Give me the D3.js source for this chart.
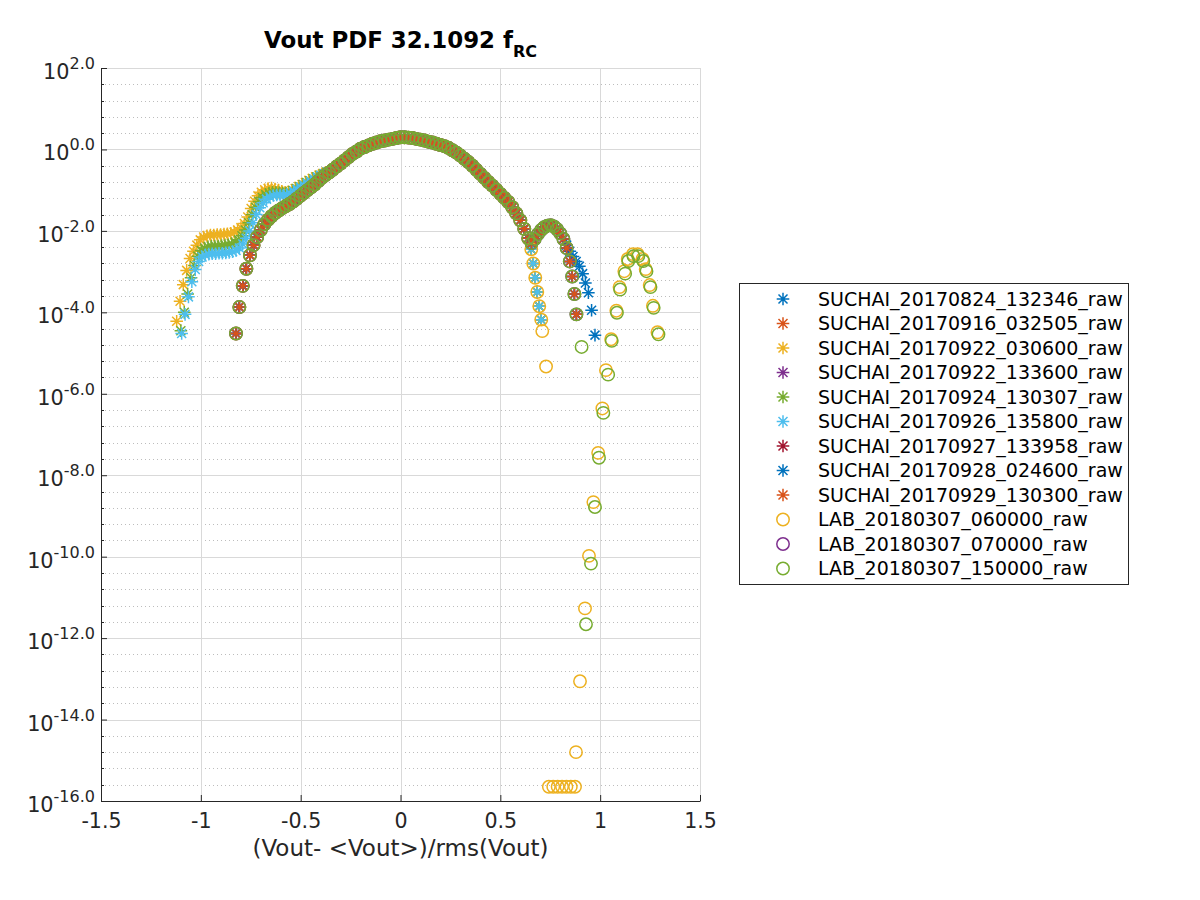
<!DOCTYPE html>
<html>
<head>
<meta charset="utf-8">
<script src="https://cdn.jsdelivr.net/npm/d3@7"></script>
<style>
  body { margin: 0; background: #fff; }
  text { font-family: "DejaVu Sans", sans-serif; }
</style>
</head>
<body>
<svg id="chart" width="1200" height="900"></svg>
<script>
// values are log10(PDF) against (Vout-<Vout>)/rms(Vout)

const names = [
  'SUCHAI_20170824_132346_raw', 'SUCHAI_20170916_032505_raw', 'SUCHAI_20170922_030600_raw',
  'SUCHAI_20170922_133600_raw', 'SUCHAI_20170924_130307_raw', 'SUCHAI_20170926_135800_raw',
  'SUCHAI_20170927_133958_raw', 'SUCHAI_20170928_024600_raw', 'SUCHAI_20170929_130300_raw',
  'LAB_20180307_060000_raw', 'LAB_20180307_070000_raw', 'LAB_20180307_150000_raw'
];
const markers = ['*', '*', '*', '*', '*', '*', '*', '*', '*', 'o', 'o', 'o'];
const colors = ['#0072BD', '#D95319', '#EDB120', '#7E2F8E', '#77AC30', '#4DBEEE',
  '#A2142F', '#0072BD', '#D95319', '#EDB120', '#7E2F8E', '#77AC30'];

const xTicks = [-1.5, -1, -0.5, 0, 0.5, 1, 1.5];
const yTicks = [-16, -14, -12, -10, -8, -6, -4, -2, 0, 2];

// left flank of the narrow runs (and the LAB runs)
const leftB = [[-0.824,-4.52],[-0.807,-3.87],[-0.790,-3.35],[-0.772,-2.93],[-0.754,-2.60],[-0.736,-2.35],
  [-0.718,-2.15],[-0.700,-1.98],[-0.682,-1.84],[-0.664,-1.73],[-0.646,-1.64],[-0.628,-1.56],[-0.610,-1.50],
  [-0.592,-1.44],[-0.574,-1.39],[-0.556,-1.34],[-0.538,-1.28],[-0.520,-1.21],[-0.502,-1.14],[-0.484,-1.07],
  [-0.466,-1.00],[-0.448,-0.93],[-0.430,-0.86],[-0.412,-0.78],[-0.394,-0.70],[-0.376,-0.63],[-0.358,-0.57]];

// left flanks of the wide runs (shoulder near 1e-2)
const leftYellow = [[-1.121,-4.22],[-1.104,-3.73],[-1.088,-3.32],[-1.071,-2.97],[-1.054,-2.68],[-1.037,-2.50],
  [-1.020,-2.35],[-1.003,-2.22],[-0.986,-2.15],[-0.969,-2.12],[-0.952,-2.10],[-0.935,-2.10],[-0.918,-2.09],
  [-0.901,-2.09],[-0.884,-2.08],[-0.867,-2.07],[-0.850,-2.06],[-0.833,-2.03],[-0.816,-1.98],[-0.799,-1.92],
  [-0.782,-1.82],[-0.765,-1.66],[-0.748,-1.45],[-0.731,-1.27],[-0.714,-1.14],[-0.697,-1.05],[-0.680,-0.99],
  [-0.663,-0.96],[-0.646,-0.95],[-0.629,-0.97],[-0.612,-1.00],[-0.595,-1.03],[-0.578,-1.05],[-0.561,-1.04],
  [-0.544,-1.01],[-0.527,-0.96],[-0.510,-0.91],[-0.493,-0.86],[-0.476,-0.81],[-0.459,-0.76],[-0.442,-0.71],
  [-0.425,-0.67],[-0.408,-0.63],[-0.391,-0.60],[-0.374,-0.56],[-0.357,-0.53]];
const leftGreen = [[-1.100,-4.45],[-1.083,-4.00],[-1.066,-3.55],[-1.049,-3.15],[-1.032,-2.85],[-1.015,-2.62],
  [-0.998,-2.48],[-0.981,-2.42],[-0.964,-2.39],[-0.947,-2.38],[-0.930,-2.37],[-0.913,-2.37],[-0.896,-2.36],
  [-0.879,-2.35],[-0.862,-2.34],[-0.845,-2.32],[-0.828,-2.28],[-0.811,-2.22],[-0.794,-2.12],[-0.777,-1.98],
  [-0.760,-1.80],[-0.743,-1.60],[-0.726,-1.42],[-0.709,-1.28],[-0.692,-1.18],[-0.675,-1.11],[-0.658,-1.07],
  [-0.641,-1.05],[-0.624,-1.05],[-0.607,-1.06],[-0.590,-1.07],[-0.573,-1.07],[-0.556,-1.05],[-0.539,-1.01],
  [-0.522,-0.96],[-0.505,-0.91],[-0.488,-0.86],[-0.471,-0.81],[-0.454,-0.77],[-0.437,-0.72],[-0.420,-0.68],
  [-0.403,-0.64],[-0.386,-0.60],[-0.369,-0.56],[-0.352,-0.53]];
const leftCyan = [[-1.096,-4.52],[-1.079,-4.05],[-1.062,-3.62],[-1.045,-3.25],[-1.028,-2.95],[-1.011,-2.75],
  [-0.994,-2.64],[-0.977,-2.59],[-0.960,-2.57],[-0.943,-2.56],[-0.926,-2.56],[-0.909,-2.55],[-0.892,-2.55],
  [-0.875,-2.54],[-0.858,-2.53],[-0.841,-2.51],[-0.824,-2.48],[-0.807,-2.42],[-0.790,-2.32],[-0.773,-2.18],
  [-0.756,-2.00],[-0.739,-1.80],[-0.722,-1.60],[-0.705,-1.43],[-0.688,-1.31],[-0.671,-1.22],[-0.654,-1.16],
  [-0.637,-1.13],[-0.620,-1.12],[-0.603,-1.12],[-0.586,-1.12],[-0.569,-1.11],[-0.552,-1.08],[-0.535,-1.03],
  [-0.518,-0.98],[-0.501,-0.93],[-0.484,-0.88],[-0.467,-0.83],[-0.450,-0.78],[-0.433,-0.73],[-0.416,-0.68],
  [-0.399,-0.64],[-0.382,-0.60],[-0.365,-0.56],[-0.350,-0.53]];

// body shared by every run
const core = [[-0.34,-0.50],[-0.32,-0.42],[-0.30,-0.35],[-0.28,-0.27],[-0.26,-0.19],[-0.24,-0.11],
  [-0.22,-0.05],[-0.20,0.02],[-0.18,0.06],[-0.16,0.10],[-0.14,0.14],[-0.12,0.17],[-0.10,0.20],[-0.08,0.22],
  [-0.06,0.24],[-0.04,0.26],[-0.02,0.28],[0.00,0.30],[0.02,0.30],[0.04,0.29],[0.06,0.28],[0.08,0.26],
  [0.10,0.24],[0.12,0.22],[0.14,0.19],[0.16,0.17],[0.18,0.14],[0.20,0.11],[0.22,0.08],[0.24,0.04],
  [0.26,-0.02],[0.28,-0.08],[0.30,-0.15],[0.32,-0.23],[0.34,-0.31],[0.36,-0.40],[0.38,-0.50],[0.40,-0.60],
  [0.42,-0.70],[0.44,-0.80],[0.46,-0.89],[0.48,-0.99],[0.50,-1.09],[0.52,-1.19],[0.54,-1.29],[0.56,-1.42],
  [0.58,-1.57],[0.60,-1.74],[0.62,-1.95],[0.64,-2.18]];

// right side
const lowBranch = [[0.655,-2.45],[0.665,-2.80],[0.675,-3.15],[0.685,-3.50],[0.695,-3.85],[0.705,-4.18]];
const humpRise = [[0.656,-2.30],[0.672,-2.20],[0.688,-2.08],[0.704,-1.98],[0.720,-1.91],[0.736,-1.87],
  [0.752,-1.86],[0.768,-1.89],[0.784,-1.96],[0.800,-2.06],[0.816,-2.20]];
const humpFall = [[0.832,-2.42],[0.848,-2.75],[0.860,-3.12],[0.871,-3.55],[0.881,-4.05]];
const blueTail = [[0.832,-2.35],[0.848,-2.50],[0.864,-2.63],[0.880,-2.75],[0.896,-2.87],[0.912,-3.05],
  [0.926,-3.28],[0.941,-3.52],[0.957,-3.95],[0.974,-4.56]];

const labMidYellow = [[0.710,-4.46],[0.729,-5.33]];
const labMidGreen = [[0.907,-4.85]];
const farHumpYellow = [[1.055,-4.66],[1.081,-3.96],[1.097,-3.38],[1.121,-2.99],[1.138,-2.69],[1.164,-2.57],
  [1.188,-2.57],[1.212,-2.69],[1.228,-2.94],[1.248,-3.33],[1.264,-3.84],[1.287,-4.49]];
const farHumpGreen = [[1.058,-4.70],[1.084,-4.01],[1.100,-3.44],[1.125,-3.05],[1.141,-2.74],[1.167,-2.62],
  [1.191,-2.62],[1.216,-2.74],[1.232,-2.99],[1.252,-3.38],[1.268,-3.89],[1.292,-4.54]];
const tailYellow = [[1.029,-5.42],[1.011,-6.36],[0.990,-7.45],[0.966,-8.66],[0.944,-9.98],[0.924,-11.27],
  [0.899,-13.06],[0.879,-14.80]];
const tailGreen = [[1.040,-5.53],[1.016,-6.47],[0.994,-7.57],[0.974,-8.78],[0.954,-10.17],[0.929,-11.66]];
const epsRow = [[0.743,-15.65],[0.765,-15.65],[0.787,-15.65],[0.809,-15.65],[0.831,-15.65],[0.853,-15.65],
  [0.874,-15.65]];

const parts = [
  [leftB, core, humpRise, blueTail],
  [leftB, core, lowBranch],
  [leftYellow, core, lowBranch],
  [leftB, core, humpRise, humpFall],
  [leftGreen, core, lowBranch],
  [leftCyan, core, lowBranch],
  [leftB, core, humpRise, humpFall],
  [leftB, core, humpRise, humpFall],
  [leftB, core, humpRise, humpFall],
  [leftB, core, lowBranch, labMidYellow, farHumpYellow, tailYellow, epsRow],
  [leftB, core, humpRise, humpFall],
  [leftB, core, humpRise, humpFall, labMidGreen, farHumpGreen, tailGreen]
];

const series = names.map((name, i) => ({
  name, color: colors[i], marker: markers[i], points: [].concat(...parts[i])
}));

const ink = '#262626';
const svg = d3.select('#chart');
const x = d3.scaleLinear().domain([-1.5, 1.5]).range([101, 700]);
const y = d3.scaleLinear().domain([-16, 2]).range([801, 68]);
const px = v => Math.round(v) + 0.5;

// minor y positions every 0.4 decade
const yMinor = d3.range(0, 46).map(k => -16 + k * 0.4).filter(v => Math.abs(v / 2 - Math.round(v / 2)) > 1e-6);

// grid
const grid = svg.append('g').attr('stroke-width', 1).attr('fill', 'none');
grid.selectAll('.minor').data(yMinor).join('line').attr('class', 'minor')
  .attr('x1', 101).attr('x2', 700)
  .attr('y1', d => px(y(d))).attr('y2', d => px(y(d)))
  .attr('stroke', '#bdbdbd').attr('stroke-dasharray', '1,3');
grid.selectAll('.gy').data(yTicks).join('line').attr('class', 'gy')
  .attr('x1', 101).attr('x2', 700)
  .attr('y1', d => px(y(d))).attr('y2', d => px(y(d)))
  .attr('stroke', '#d9d9d9');
grid.selectAll('.gx').data(xTicks).join('line').attr('class', 'gx')
  .attr('x1', d => px(x(d))).attr('x2', d => px(x(d)))
  .attr('y1', 68).attr('y2', 801)
  .attr('stroke', '#d9d9d9');

// markers
const star = 'M0,-6.3V6.3M-6.3,0H6.3M-4.5,-4.5L4.5,4.5M-4.5,4.5L4.5,-4.5';
const marks = svg.append('g');
series.forEach(s => {
  const g = marks.append('g').attr('stroke', s.color).attr('fill', 'none').attr('stroke-width', 1.5);
  if (s.marker === 'o') {
    g.selectAll('circle').data(s.points).join('circle')
      .attr('cx', d => x(d[0])).attr('cy', d => y(d[1])).attr('r', 6.2);
  } else {
    g.selectAll('path').data(s.points).join('path')
      .attr('transform', d => `translate(${x(d[0])},${y(d[1])})`)
      .attr('d', star);
  }
});

// axes
const yAxis = svg.append('g').attr('transform', 'translate(101,0)')
  .call(d3.axisLeft(y).tickValues(yTicks).tickSize(-6).tickSizeOuter(0).tickFormat(''));
const xAxis = svg.append('g').attr('transform', 'translate(0,801)')
  .call(d3.axisBottom(x).tickValues(xTicks).tickSize(-6).tickSizeOuter(0).tickPadding(12)
    .tickFormat(d => String(d)));
[yAxis, xAxis].forEach(a => {
  a.select('.domain').attr('stroke', ink);
  a.selectAll('.tick line').attr('stroke', ink);
});
xAxis.selectAll('.tick text').attr('fill', ink).attr('font-size', 20.6)
  .attr('font-family', '"DejaVu Sans", sans-serif');

svg.append('g').selectAll('line').data(yMinor).join('line')
  .attr('x1', 101).attr('x2', 104)
  .attr('y1', d => px(y(d))).attr('y2', d => px(y(d)))
  .attr('stroke', ink);

const yLabels = svg.append('g').attr('fill', ink).attr('font-size', 20.8).attr('text-anchor', 'end')
  .selectAll('text').data(yTicks).join('text')
  .attr('x', 95).attr('y', d => y(d) + 11);
yLabels.append('tspan').text('10');
yLabels.append('tspan').attr('dy', -10).attr('font-size', 16).text(d => d.toFixed(1));

// title and label
const title = svg.append('text').attr('x', 400.5).attr('y', 48).attr('text-anchor', 'middle')
  .attr('font-weight', 'bold').attr('font-size', 22.9).attr('fill', '#000');
title.append('tspan').text('Vout PDF 32.1092 f');
title.append('tspan').attr('dy', 9).attr('font-size', 16).text('RC');

svg.append('text').attr('x', 400.5).attr('y', 856).attr('text-anchor', 'middle')
  .attr('font-size', 23).attr('fill', ink).text('(Vout- <Vout>)/rms(Vout)');

// legend
const legend = svg.append('g');
legend.append('rect').attr('x', 739.5).attr('y', 283.5).attr('width', 389).attr('height', 301)
  .attr('fill', '#fff').attr('stroke', ink).attr('stroke-width', 1);
const rows = legend.selectAll('.row').data(series).join('g').attr('class', 'row')
  .attr('transform', (d, i) => `translate(0,${299 + i * 24.5})`);
rows.filter(d => d.marker === 'o').append('circle')
  .attr('cx', 783).attr('cy', 0).attr('r', 6.2)
  .attr('fill', 'none').attr('stroke', d => d.color).attr('stroke-width', 1.5);
rows.filter(d => d.marker === '*').append('path')
  .attr('transform', 'translate(783,0)').attr('d', star)
  .attr('fill', 'none').attr('stroke', d => d.color).attr('stroke-width', 1.5);
rows.append('text').attr('x', 818).attr('y', 6.8).attr('font-size', 19).attr('fill', '#000')
  .text(d => d.name);
</script>
</body>
</html>
